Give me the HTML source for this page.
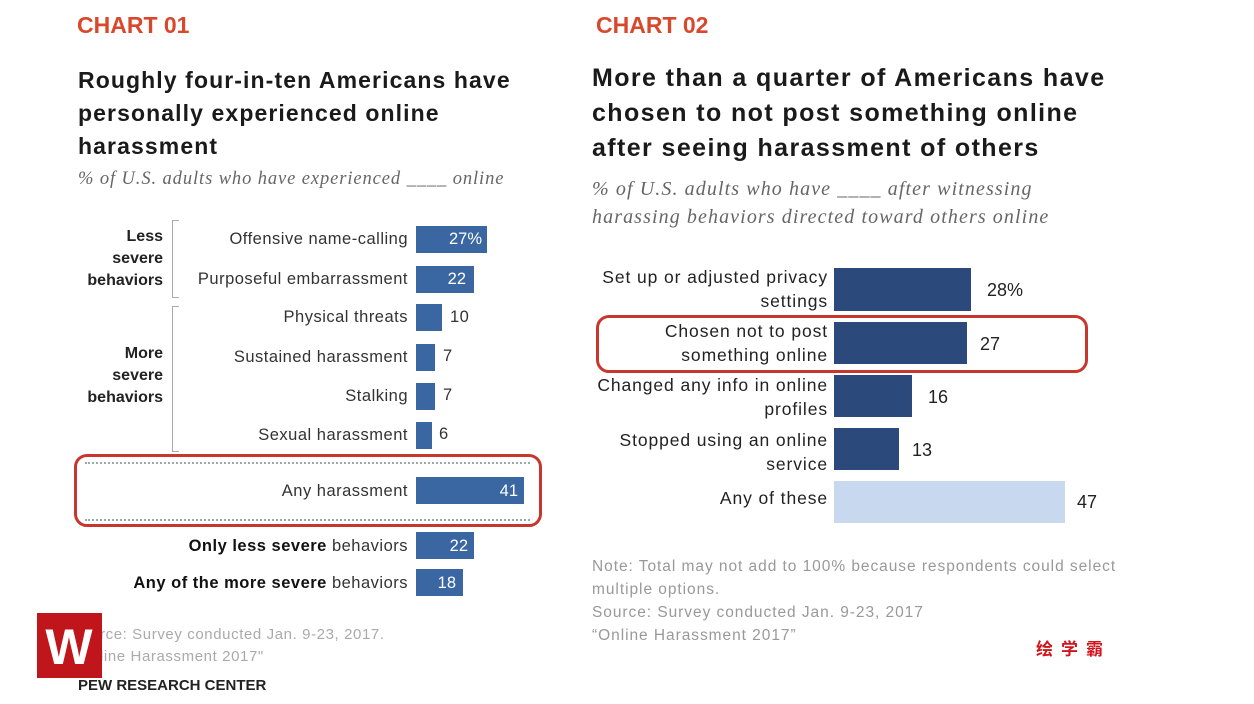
<!DOCTYPE html>
<html><head><meta charset="utf-8"><style>
body{margin:0;width:1254px;height:704px;background:#fff;position:relative;overflow:hidden;font-family:"Liberation Sans","Noto Sans CJK SC",sans-serif;color:#222}
.a{position:absolute;white-space:nowrap}
.r{text-align:right}
.bar{position:absolute;background:#3a66a2}
.dk{position:absolute;background:#2b4a7b}
.h{color:#d9482b;font-weight:bold;font-size:23px}
.t{font-weight:bold;font-size:23px;color:#1a1a1a}
.s{font-family:"Liberation Serif",serif;font-style:italic;color:#666}
.lab{font-size:16.5px;color:#333;line-height:20px;letter-spacing:0.5px}
.vw{color:#fff;font-size:16.5px;line-height:20px}
.rl{font-size:17.5px;line-height:24px;letter-spacing:0.9px}
</style></head><body>
<div class="a h" style="left:77px;top:12px">CHART 01</div>
<div class="a t" style="left:78px;top:64px;line-height:33px;letter-spacing:1.1px">Roughly four-in-ten Americans have<br>personally experienced online<br>harassment</div>
<div class="a s" style="left:78px;top:169px;font-size:18.5px;letter-spacing:0.9px">% of U.S. adults who have experienced ____ online</div>

<div class="a r" style="left:70px;top:226px;width:93px;font-weight:bold;font-size:16px;line-height:22px">Less<br>severe<br>behaviors</div>
<div class="a r" style="left:70px;top:343px;width:93px;font-weight:bold;font-size:16px;line-height:22px">More<br>severe<br>behaviors</div>
<div class="a" style="left:172px;top:220px;width:6px;height:76px;border:1px solid #aaa;border-right:none"></div>
<div class="a" style="left:172px;top:306px;width:6px;height:144px;border:1px solid #aaa;border-right:none"></div>

<div class="a r lab" style="left:150px;width:258px;top:229px">Offensive name-calling</div>
<div class="a r lab" style="left:150px;width:258px;top:269px">Purposeful embarrassment</div>
<div class="a r lab" style="left:150px;width:258px;top:307px">Physical threats</div>
<div class="a r lab" style="left:150px;width:258px;top:347px">Sustained harassment</div>
<div class="a r lab" style="left:150px;width:258px;top:386px">Stalking</div>
<div class="a r lab" style="left:150px;width:258px;top:425px">Sexual harassment</div>
<div class="a r lab" style="left:150px;width:258px;top:481px">Any harassment</div>
<div class="a r lab" style="left:50px;width:358px;top:536px"><b style="color:#111">Only less severe</b> behaviors</div>
<div class="a r lab" style="left:50px;width:358px;top:573px"><b style="color:#111">Any of the more severe</b> behaviors</div>

<div class="bar" style="left:416px;top:226px;width:71px;height:27px"></div><div class="a vw r" style="left:416px;width:66px;top:229px">27%</div>
<div class="bar" style="left:416px;top:266px;width:58px;height:27px"></div><div class="a vw r" style="left:416px;width:50px;top:269px">22</div>
<div class="bar" style="left:416px;top:304px;width:26px;height:27px"></div><div class="a lab" style="left:450px;top:307px">10</div>
<div class="bar" style="left:416px;top:344px;width:19px;height:27px"></div><div class="a lab" style="left:443px;top:346px">7</div>
<div class="bar" style="left:416px;top:383px;width:19px;height:27px"></div><div class="a lab" style="left:443px;top:385px">7</div>
<div class="bar" style="left:416px;top:422px;width:16px;height:27px"></div><div class="a lab" style="left:439px;top:424px">6</div>
<div class="bar" style="left:416px;top:477px;width:108px;height:27px"></div><div class="a vw r" style="left:416px;width:102px;top:481px">41</div>
<div class="bar" style="left:416px;top:532px;width:58px;height:27px"></div><div class="a vw r" style="left:416px;width:52px;top:536px">22</div>
<div class="bar" style="left:416px;top:569px;width:47px;height:27px"></div><div class="a vw r" style="left:416px;width:40px;top:573px">18</div>

<div class="a" style="left:85px;top:462px;width:445px;border-top:2px dotted #9aa"></div>
<div class="a" style="left:85px;top:519px;width:445px;border-top:2px dotted #9aa"></div>
<div class="a" style="left:74px;top:454px;width:462px;height:67px;border:3px solid #c8372d;border-radius:13px"></div>

<div class="a" style="left:100px;top:624px;font-size:15px;color:#aaa;line-height:22px;letter-spacing:0.6px">rce: Survey conducted Jan. 9-23, 2017.<br>line Harassment 2017"</div>
<div class="a" style="left:78px;top:677px;font-size:15px;font-weight:bold;color:#222">PEW RESEARCH CENTER</div>
<div class="a" style="left:37px;top:613px;width:65px;height:65px;background:#c0151b"></div>
<div class="a" style="left:45px;top:625px;width:48px;height:44px;color:#fff;font-weight:bold;font-size:50px;line-height:44px;text-align:center">W</div>

<div class="a h" style="left:596px;top:12px">CHART 02</div>
<div class="a t" style="left:592px;top:61px;font-size:25px;line-height:35px;letter-spacing:1.4px">More than a quarter of Americans have<br>chosen to not post something online<br>after seeing harassment of others</div>
<div class="a s" style="left:592px;top:175px;font-size:20px;line-height:28px;letter-spacing:1.1px">% of U.S. adults who have ____ after witnessing<br>harassing behaviors directed toward others online</div>

<div class="a r rl" style="left:540px;width:288px;top:265px">Set up or adjusted privacy<br>settings</div>
<div class="a r rl" style="left:540px;width:288px;top:319px">Chosen not to post<br>something online</div>
<div class="a r rl" style="left:540px;width:288px;top:373px">Changed any info in online<br>profiles</div>
<div class="a r rl" style="left:540px;width:288px;top:428px">Stopped using an online<br>service</div>
<div class="a r rl" style="left:540px;width:288px;top:486px">Any of these</div>

<div class="dk" style="left:834px;top:268px;width:137px;height:43px"></div><div class="a" style="left:987px;top:280px;font-size:18px">28%</div>
<div class="dk" style="left:834px;top:322px;width:133px;height:42px"></div><div class="a" style="left:980px;top:334px;font-size:18px">27</div>
<div class="dk" style="left:834px;top:375px;width:78px;height:42px"></div><div class="a" style="left:928px;top:387px;font-size:18px">16</div>
<div class="dk" style="left:834px;top:428px;width:65px;height:42px"></div><div class="a" style="left:912px;top:440px;font-size:18px">13</div>
<div class="a" style="left:834px;top:481px;width:231px;height:42px;background:#c8d8ee"></div><div class="a" style="left:1077px;top:492px;font-size:18px">47</div>
<div class="a" style="left:596px;top:315px;width:486px;height:52px;border:3px solid #c8372d;border-radius:13px"></div>

<div class="a" style="left:592px;top:555px;font-size:15.5px;color:#999;line-height:23px;letter-spacing:0.95px">Note: Total may not add to 100% because respondents could select<br>multiple options.<br>Source: Survey conducted Jan. 9-23, 2017<br>“Online Harassment 2017”</div>
<div class="a" style="left:1036px;top:635px;font-size:17px;font-weight:bold;color:#d0141b;letter-spacing:8px">绘学霸</div>
</body></html>
